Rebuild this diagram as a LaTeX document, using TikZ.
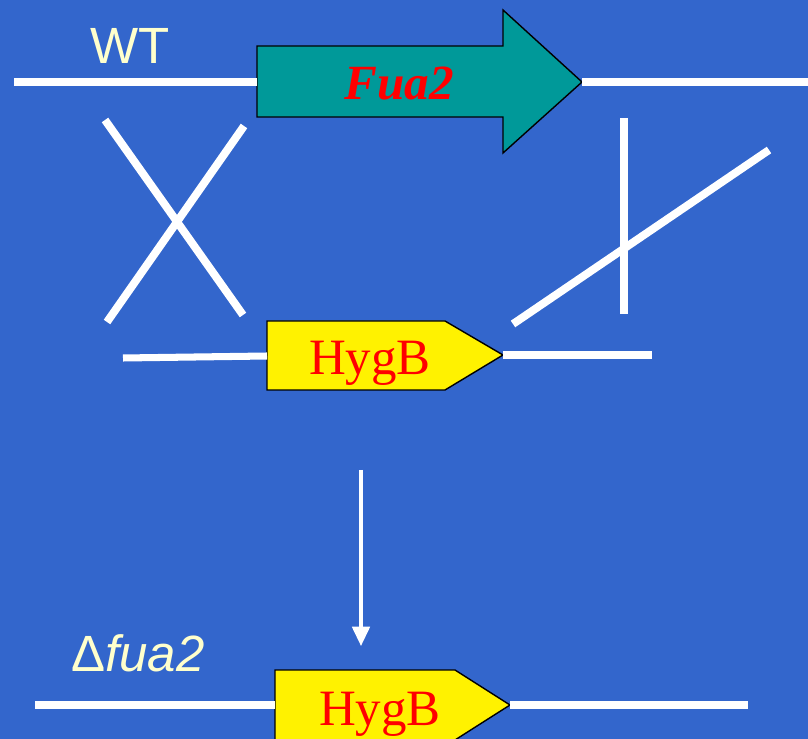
\documentclass[tikz,border=0pt]{standalone}
\usepackage{fontspec}
\setmainfont{Liberation Serif}
\setsansfont{Liberation Sans}
\usepackage{xcolor}
\usetikzlibrary{arrows.meta}
\definecolor{slideblue}{RGB}{51,102,204}
\definecolor{geneteal}{RGB}{0,153,153}
\definecolor{labelcream}{RGB}{255,255,204}

\begin{document}
\begin{tikzpicture}[
    x=0.02cm, y=-0.02cm,
    dna/.style={draw=white, line width=4pt},
    swap/.style={draw=white, line width=4.5pt},
    gene/.style={draw=black, line width=0.8pt, fill=geneteal},
    marker/.style={draw=black, line width=0.8pt, fill=yellow},
    strain/.style={anchor=base, text=labelcream, inner sep=0pt,
        font=\sffamily\fontsize{29}{32}\selectfont},
    genename/.style={anchor=base, text=red, inner sep=0pt,
        font=\fontsize{29}{32}\selectfont},
    arrow/.style={-{Triangle[length=11pt,width=10pt]}, draw=white, line width=1.8pt}
]
\clip (0,0) rectangle (808,739);
\fill[slideblue] (0,0) rectangle (808,739);

% Wild type locus
\node[strain] (wt) at (130,64) {WT};
\coordinate (wtL) at (14,82);
\coordinate (wtR) at (808,82);
\coordinate (fuaIn) at (257,82);
\coordinate (fuaTip) at (582,82);
\draw[gene] (257,46) -- (503,46) -- (503,10) -- (fuaTip) -- (503,153)
    -- (503,117) -- (257,117) -- cycle;
\node[genename, font=\bfseries\itshape\fontsize{28}{31}\selectfont] (fua) at (399,100) {Fua2};
\draw[dna] (wtL) -- (fuaIn);
\draw[dna] (fuaTip) -- (wtR);

% Crossovers
\draw[swap] (105,120) -- (243,315);
\draw[swap] (244,126) -- (107,322);
\draw[swap] (624,118) -- (624,314);
\draw[swap] (513,324) -- (769,150);

% Replacement construct
\coordinate (hygL) at (123,358);
\coordinate (hygIn) at (267,356);
\coordinate (hygTip) at (503,355);
\coordinate (hygR) at (652,355);
\draw[marker] (267,321) -- (445,321) -- (hygTip) -- (445,390) -- (267,390) -- cycle;
\node[genename] (hyg) at (370,375) {HygB};
\draw[dna] (hygL) -- (hygIn);
\draw[dna] (hygTip) -- (hygR);

% Result
\coordinate (stepTop) at (361,470);
\coordinate (stepEnd) at (361,646);
\draw[arrow] (stepTop) -- (stepEnd);

% Deletion mutant locus
\node[strain] (mut) at (138,671) {Δ\textit{fua2}};
\coordinate (mutL) at (35,705);
\coordinate (mutIn) at (275,705);
\coordinate (mutTip) at (510,705);
\coordinate (mutR) at (748,705);
\draw[marker] (275,670) -- (455,670) -- (mutTip) -- (455,740) -- (275,740) -- cycle;
\node[genename] (hyg2) at (380,725) {HygB};
\draw[dna] (mutL) -- (mutIn);
\draw[dna] (mutTip) -- (mutR);

\end{tikzpicture}
\end{document}
